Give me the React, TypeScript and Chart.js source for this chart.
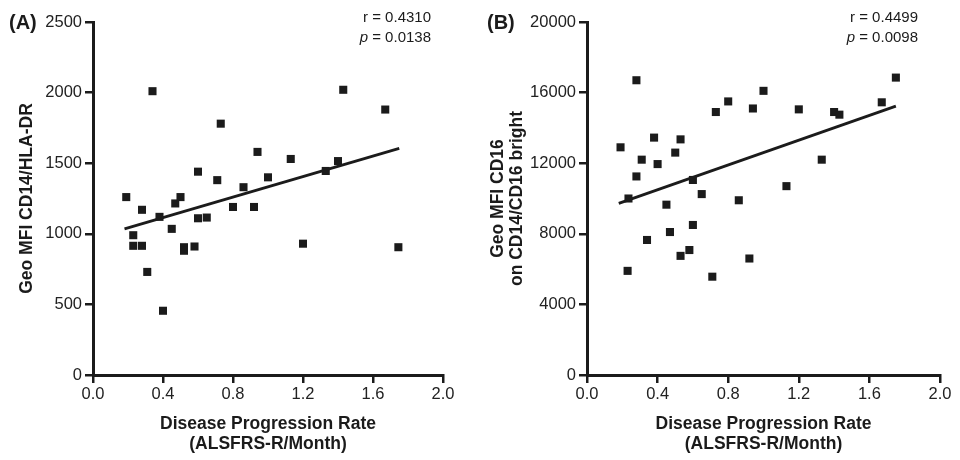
import React, { useEffect, useRef } from "react";
import { Chart, registerables } from "chart.js";

Chart.register(...registerables);

// ---- Data ----
const progressionRateA = [0.19, 0.23, 0.23, 0.28, 0.28, 0.31, 0.34, 0.38, 0.40, 0.45, 0.47, 0.50, 0.52, 0.52, 0.58, 0.60, 0.60, 0.65, 0.71, 0.73, 0.80, 0.86, 0.92, 0.94, 1.00, 1.13, 1.20, 1.33, 1.40, 1.43, 1.67, 1.745];
const cd14HlaDr = [1260, 990, 915, 1170, 915, 730, 2010, 1120, 455, 1035, 1215, 1260, 905, 880, 910, 1440, 1110, 1115, 1380, 1780, 1190, 1330, 1190, 1580, 1400, 1530, 930, 1445, 1515, 2020, 1880, 905];

const progressionRateB = [0.19, 0.23, 0.235, 0.28, 0.28, 0.31, 0.34, 0.38, 0.40, 0.45, 0.47, 0.50, 0.53, 0.53, 0.58, 0.60, 0.60, 0.65, 0.71, 0.73, 0.80, 0.86, 0.92, 0.94, 1.00, 1.13, 1.20, 1.33, 1.40, 1.43, 1.67, 1.75];
const cd16Bright = [12900, 5900, 10000, 16700, 11250, 12200, 7650, 13450, 11950, 9650, 8100, 12600, 13350, 6750, 7080, 11050, 8500, 10250, 5570, 14900, 15500, 9900, 6600, 15100, 16100, 10700, 15050, 12200, 14900, 14750, 15450, 16850];

const trendX = [0.18, 1.75];
const trendA = [1035, 1605];
const trendB = [9720, 15230];

const xTicks = [0, 0.4, 0.8, 1.2, 1.6, 2.0];
const yTicksA = [0, 500, 1000, 1500, 2000, 2500];
const yTicksB = [0, 4000, 8000, 12000, 16000, 20000];

const xTitle = ["Disease Progression Rate", "(ALSFRS-R/Month)"];
const yTitleA = ["Geo MFI CD14/HLA-DR"];
const yTitleB = ["Geo MFI CD16", "on CD14/CD16 bright"];

const FONT = "'Liberation Sans', Arial, Helvetica, sans-serif";
const INK = "#1b1b1b";

type PanelProps = {
  left: number;
  label: string;
  rText: string;
  pText: string;
  xs: number[];
  ys: number[];
  trend: number[];
  yTicks: number[];
  yTitle: string[];
  axisLeft: number; // width of y scale box
  padRight: number;
  statsRight: number;
  labelX: number;
  yTitleXs: number[];
};

function Panel(props: PanelProps) {
  const ref = useRef<HTMLCanvasElement | null>(null);

  useEffect(() => {
    const canvas = ref.current;
    if (!canvas) return;
    const points = props.xs.map((x, i) => ({ x, y: props.ys[i] }));
    const line = trendX.map((x, i) => ({ x, y: props.trend[i] }));
    const yMax = props.yTicks[props.yTicks.length - 1];

    const textPlugin = {
      id: "panelText",
      afterDraw(chart: any) {
        const ctx = chart.ctx as CanvasRenderingContext2D;
        const area = chart.chartArea;
        ctx.save();
        ctx.fillStyle = INK;
        ctx.textBaseline = "middle";
        // panel label
        ctx.font = `bold 20px ${FONT}`;
        ctx.textAlign = "left";
        ctx.fillText(props.label, props.labelX, 23);
        // stats
        ctx.font = `15px ${FONT}`;
        ctx.textAlign = "right";
        ctx.fillText(props.rText, props.statsRight, 18);
        const rest = " = " + props.pText;
        ctx.fillText(rest, props.statsRight, 38);
        const w = ctx.measureText(rest).width;
        ctx.font = `italic 15px ${FONT}`;
        ctx.fillText("p", props.statsRight - w, 38);
        // x title
        ctx.font = `bold 17.5px ${FONT}`;
        ctx.textAlign = "center";
        const cx = (area.left + area.right) / 2;
        ctx.fillText(xTitle[0], cx, 424);
        ctx.fillText(xTitle[1], cx, 444);
        // y title
        const cy = (area.top + area.bottom) / 2;
        props.yTitle.forEach((t, i) => {
          ctx.save();
          ctx.translate(props.yTitleXs[i], cy);
          ctx.rotate(-Math.PI / 2);
          ctx.fillText(t, 0, 0);
          ctx.restore();
        });
        ctx.restore();
      },
    };

    const chart = new Chart(canvas, {
      type: "scatter",
      data: {
        datasets: [
          {
            type: "scatter",
            data: points,
            pointStyle: "rect",
            pointRadius: 5.7,
            pointBorderWidth: 0,
            backgroundColor: INK,
            borderColor: INK,
          },
          {
            type: "line",
            data: line,
            showLine: true,
            pointRadius: 0,
            borderColor: INK,
            borderWidth: 2.8,
            fill: false,
          },
        ],
      } as any,
      options: {
        animation: false,
        responsive: false,
        devicePixelRatio: 1,
        layout: { padding: { top: 22, right: props.padRight, left: 0, bottom: 0 } },
        plugins: { legend: { display: false }, tooltip: { enabled: false } },
        scales: {
          x: {
            type: "linear",
            min: 0,
            max: 2,
            afterBuildTicks: (s: any) => {
              s.ticks = xTicks.map((v) => ({ value: v }));
            },
            afterFit: (s: any) => {
              s.height = 85;
            },
            ticks: {
              callback: (v: any) => Number(v).toFixed(1),
              color: "#222",
              font: { family: FONT, size: 16.5 },
              padding: 2,
              maxRotation: 0,
            },
            grid: {
              display: true,
              drawOnChartArea: false,
              drawTicks: true,
              tickLength: 8,
              color: INK,
              lineWidth: 2.5,
            },
            border: { display: true, color: INK, width: 3 },
          },
          y: {
            type: "linear",
            min: 0,
            max: yMax,
            afterBuildTicks: (s: any) => {
              s.ticks = props.yTicks.map((v) => ({ value: v }));
            },
            afterFit: (s: any) => {
              s.width = props.axisLeft;
            },
            ticks: {
              callback: (v: any) => String(v),
              color: "#222",
              font: { family: FONT, size: 16.5 },
              padding: 3,
            },
            grid: {
              display: true,
              drawOnChartArea: false,
              drawTicks: true,
              tickLength: 8,
              color: INK,
              lineWidth: 2.5,
            },
            border: { display: true, color: INK, width: 3 },
          },
        },
      } as any,
      plugins: [textPlugin],
    });
    return () => chart.destroy();
  }, []);

  return (
    <div style={{ position: "absolute", left: props.left, top: 0, width: 480, height: 460 }}>
      <canvas ref={ref} width={480} height={460} style={{ width: 480, height: 460, display: "block" }} />
    </div>
  );
}

export default function App() {
  return (
    <div style={{ position: "absolute", left: 0, top: 0, width: 960, height: 460, background: "#fff" }}>
      <Panel
        left={0}
        label="(A)"
        rText="r = 0.4310"
        pText="0.0138"
        xs={progressionRateA}
        ys={cd14HlaDr}
        trend={trendA}
        yTicks={yTicksA}
        yTitle={yTitleA}
        axisLeft={93}
        padRight={37}
        statsRight={431}
        labelX={9}
        yTitleXs={[27]}
      />
      <Panel
        left={480}
        label="(B)"
        rText="r = 0.4499"
        pText="0.0098"
        xs={progressionRateB}
        ys={cd16Bright}
        trend={trendB}
        yTicks={yTicksB}
        yTitle={yTitleB}
        axisLeft={107}
        padRight={20}
        statsRight={438}
        labelX={7}
        yTitleXs={[18, 37]}
      />
    </div>
  );
}
